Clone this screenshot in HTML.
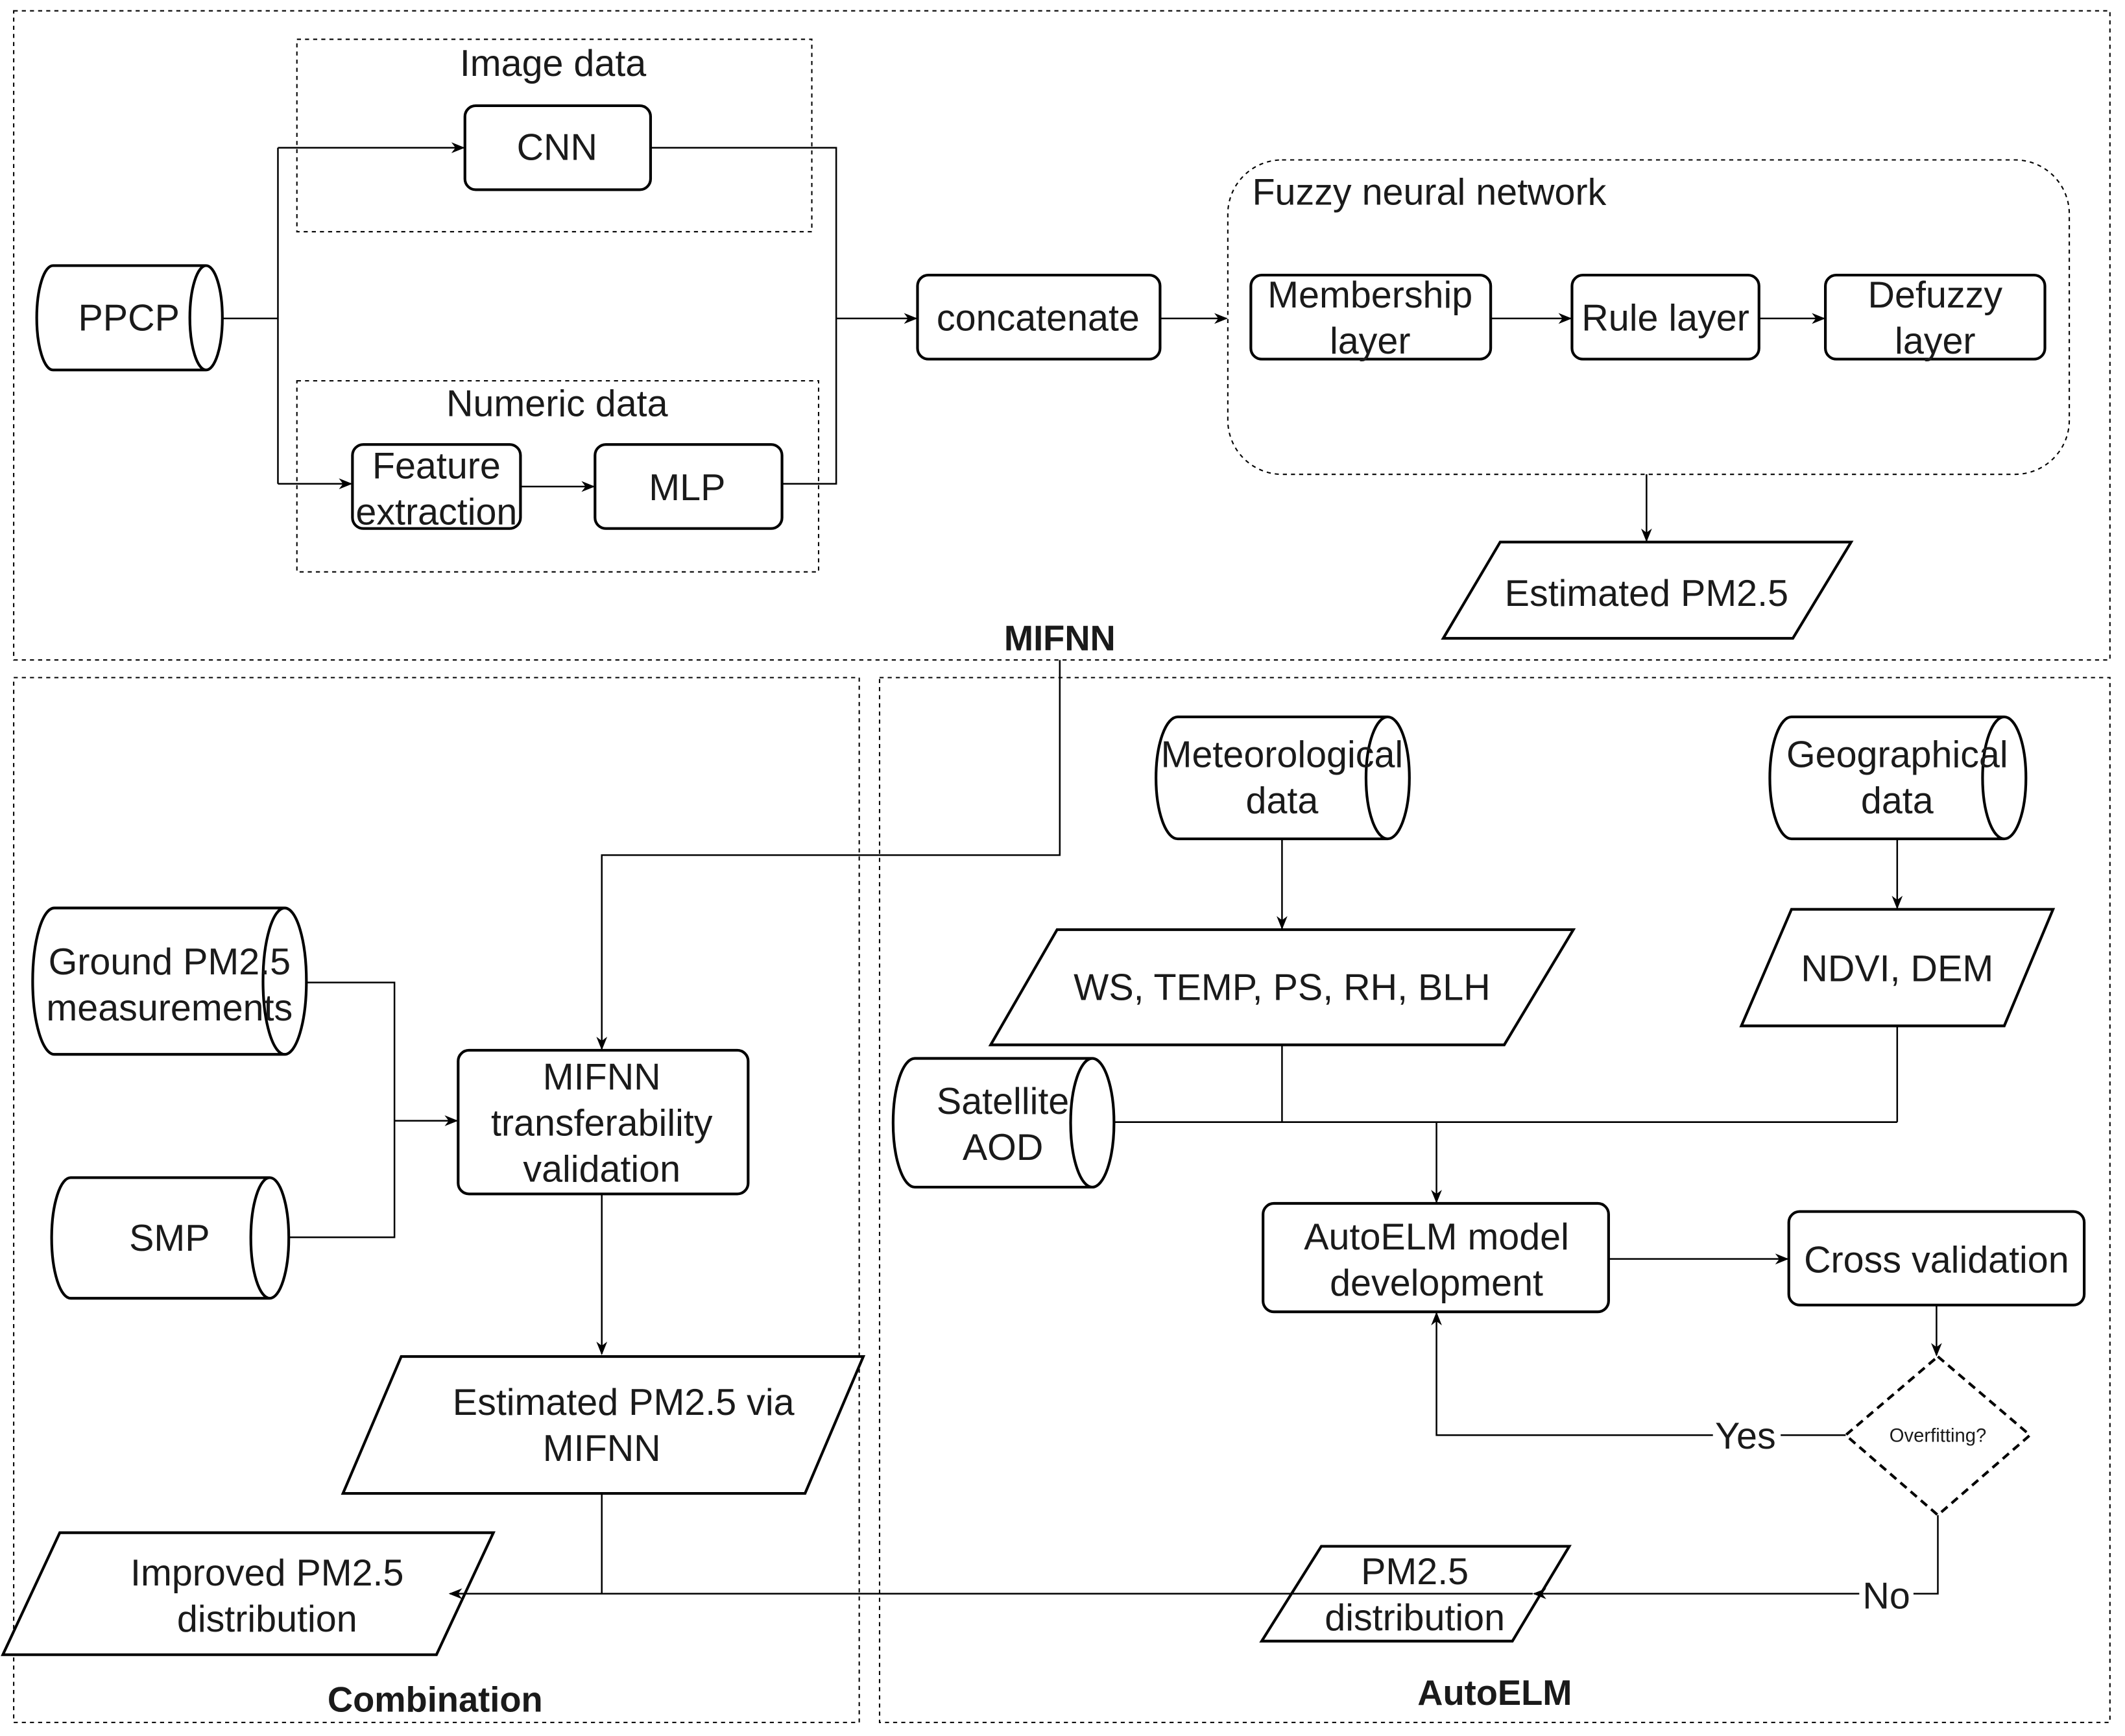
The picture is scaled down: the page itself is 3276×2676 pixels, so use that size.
<!DOCTYPE html>
<html><head><meta charset="utf-8"><style>
html,body{margin:0;padding:0;background:#fff;}
svg{display:block;}
text{font-family:"Liberation Sans",Arial,sans-serif;fill:#1a1a1a;}
</style></head><body>
<svg width="3276" height="2676" viewBox="0 0 1568 1281" xmlns="http://www.w3.org/2000/svg">
<defs>
<marker id="a" markerWidth="10" markerHeight="10" refX="9" refY="5" orient="auto" markerUnits="userSpaceOnUse">
<path d="M0,1 L10,5 L0,9 L3,5 Z" fill="#000"/></marker>
</defs>
<g fill="none" stroke="#000" stroke-width="1" stroke-dasharray="3,3">
<rect x="10" y="8" width="1547" height="479"/>
<rect x="10" y="500" width="624" height="771"/>
<rect x="649" y="500" width="908" height="771"/>
<rect x="219" y="29" width="380" height="142"/>
<rect x="219" y="281" width="385" height="141"/>
<rect x="906" y="118" width="621" height="232" rx="40"/>
</g>
<g fill="#fff" stroke="#000" stroke-width="2">
<rect x="343" y="78" width="137" height="62" rx="8"/>
<rect x="260" y="328" width="124" height="62" rx="8"/>
<rect x="439" y="328" width="138" height="62" rx="8"/>
<rect x="677" y="203" width="179" height="62" rx="8"/>
<rect x="923" y="203" width="177" height="62" rx="8"/>
<rect x="1160" y="203" width="138" height="62" rx="8"/>
<rect x="1347" y="203" width="162" height="62" rx="8"/>
<rect x="338" y="775" width="214" height="106" rx="8"/>
<rect x="932" y="888" width="255" height="80" rx="8"/>
<rect x="1320" y="894" width="218" height="69" rx="8"/>
<polygon points="1107,400 1366,400 1323,471 1065,471"/>
<polygon points="296,1001 637,1001 594,1102 253,1102"/>
<polygon points="44,1131 364,1131 322,1221 2,1221"/>
<polygon points="780,686 1161,686 1110,771 731,771"/>
<polygon points="1322,671 1515,671 1479,757 1285,757"/>
<polygon points="975,1141 1158,1141 1116,1211 931,1211"/>
<path d="M39,196 L152,196 A12,38.5 0 0 1 152,273 L39,273 A12,38.5 0 0 1 39,196 Z M152,196 A12,38.5 0 0 0 152,273"/>
<path d="M40,670 L210,670 A16,54 0 0 1 210,778 L40,778 A16,54 0 0 1 40,670 Z M210,670 A16,54 0 0 0 210,778"/>
<path d="M52,869 L199,869 A14,44.5 0 0 1 199,958 L52,958 A14,44.5 0 0 1 52,869 Z M199,869 A14,44.5 0 0 0 199,958"/>
<path d="M869,529 L1024,529 A16,45 0 0 1 1024,619 L869,619 A16,45 0 0 1 869,529 Z M1024,529 A16,45 0 0 0 1024,619"/>
<path d="M1322,529 L1479,529 A16,45 0 0 1 1479,619 L1322,619 A16,45 0 0 1 1322,529 Z M1479,529 A16,45 0 0 0 1479,619"/>
<path d="M675,781 L806,781 A16,47.5 0 0 1 806,876 L675,876 A16,47.5 0 0 1 675,781 Z M806,781 A16,47.5 0 0 0 806,876"/>
<polygon points="1430,1001 1498,1059 1430,1118 1362,1059" stroke-dasharray="6,4"/>
</g>
<g fill="none" stroke="#000" stroke-width="1.2">
<path d="M164,235 H205 M205,109 V357"/>
<path d="M205,109 H342" marker-end="url(#a)"/>
<path d="M205,357 H259" marker-end="url(#a)"/>
<path d="M384,359 H438" marker-end="url(#a)"/>
<path d="M480,109 H617 V357 H577"/>
<path d="M617,235 H676" marker-end="url(#a)"/>
<path d="M856,235 H905" marker-end="url(#a)"/>
<path d="M1100,235 H1159" marker-end="url(#a)"/>
<path d="M1298,235 H1346" marker-end="url(#a)"/>
<path d="M1215,350 V399" marker-end="url(#a)"/>
<path d="M782,487 V631 H444 V774" marker-end="url(#a)"/>
<path d="M226,725 H291 V913 H213"/>
<path d="M291,827 H337" marker-end="url(#a)"/>
<path d="M444,881 V999" marker-end="url(#a)"/>
<path d="M444,1102 V1176"/>
<path d="M1131,1176 H332" marker-end="url(#a)"/>
<path d="M946,619 V685" marker-end="url(#a)"/>
<path d="M1400,619 V670" marker-end="url(#a)"/>
<path d="M946,771 V828 M1400,757 V828 M822,828 H1400"/>
<path d="M1060,828 V887" marker-end="url(#a)"/>
<path d="M1187,929 H1319" marker-end="url(#a)"/>
<path d="M1429,963 V1000" marker-end="url(#a)"/>
<path d="M1362,1059 H1060 V969" marker-end="url(#a)"/>
<path d="M1430,1118 V1176 H1132" marker-end="url(#a)"/>
</g>
<rect x="1264" y="1046" width="50" height="28" fill="#fff"/>
<rect x="1372" y="1164" width="40" height="28" fill="#fff"/>
<g font-size="27.5" text-anchor="middle">
<text x="408" y="56">Image data</text>
<text x="411" y="307">Numeric data</text>
<text x="411" y="118">CNN</text>
<text x="322" y="353">Feature</text>
<text x="322" y="387">extraction</text>
<text x="507" y="369">MLP</text>
<text x="95" y="244">PPCP</text>
<text x="766" y="244">concatenate</text>
<text x="924" y="151" text-anchor="start">Fuzzy neural network</text>
<text x="1011" y="227">Membership</text>
<text x="1011" y="261">layer</text>
<text x="1229" y="244">Rule layer</text>
<text x="1428" y="227">Defuzzy</text>
<text x="1428" y="261">layer</text>
<text x="1215" y="447">Estimated PM2.5</text>
<text x="125" y="719">Ground PM2.5</text>
<text x="125" y="753">measurements</text>
<text x="125" y="923">SMP</text>
<text x="444" y="804">MIFNN</text>
<text x="444" y="838">transferability</text>
<text x="444" y="872">validation</text>
<text x="460" y="1044">Estimated PM2.5 via</text>
<text x="444" y="1078">MIFNN</text>
<text x="197" y="1170">Improved PM2.5</text>
<text x="197" y="1204">distribution</text>
<text x="946" y="566">Meteorological</text>
<text x="946" y="600">data</text>
<text x="1400" y="566">Geographical</text>
<text x="1400" y="600">data</text>
<text x="946" y="738">WS, TEMP, PS, RH, BLH</text>
<text x="1400" y="724">NDVI, DEM</text>
<text x="740" y="822">Satellite</text>
<text x="740" y="856">AOD</text>
<text x="1060" y="922">AutoELM model</text>
<text x="1060" y="956">development</text>
<text x="1429" y="939">Cross validation</text>
<text x="1044" y="1169">PM2.5</text>
<text x="1044" y="1203">distribution</text>
<text x="1288" y="1069">Yes</text>
<text x="1392" y="1187">No</text>
</g>
<text x="1430" y="1064" font-size="14" text-anchor="middle">Overfitting?</text>
<g font-size="26" font-weight="bold" text-anchor="middle">
<text x="782" y="480">MIFNN</text>
<text x="321" y="1263">Combination</text>
<text x="1103" y="1258">AutoELM</text>
</g>
</svg>
</body></html>
